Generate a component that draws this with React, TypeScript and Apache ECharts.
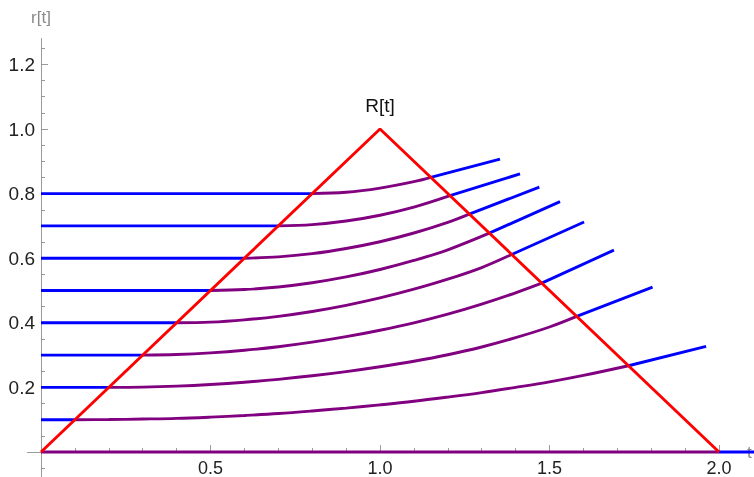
import { useEffect, useRef } from "react";
import * as echarts from "echarts";

// starting radii (flat blue segments run from t = 0 until R[t] reaches them)
const startLevels = [0.1, 0.2, 0.3, 0.4, 0.5, 0.6, 0.7, 0.8];

// purple parts [t, r[t]]
const curve00: [number, number][] = [[0, 0], [2.0, 0]];
const curve01: [number, number][] = [
  [0.1, 0.1], [0.2, 0.1005], [0.3, 0.102], [0.4, 0.104], [0.5, 0.108], [0.6, 0.113],
  [0.7, 0.119], [0.8, 0.127], [0.9, 0.136], [1.0, 0.146], [1.1, 0.157], [1.2, 0.17],
  [1.3, 0.184], [1.4, 0.2], [1.5, 0.217], [1.6, 0.237], [1.733, 0.267],
];
const curve02: [number, number][] = [
  [0.2, 0.2], [0.3, 0.201], [0.4, 0.204], [0.5, 0.209], [0.6, 0.216], [0.7, 0.225],
  [0.8, 0.236], [0.9, 0.249], [1.0, 0.264], [1.1, 0.281], [1.2, 0.301], [1.3, 0.325],
  [1.4, 0.354], [1.5, 0.387], [1.5802, 0.4198],
];
const curve03: [number, number][] = [
  [0.3, 0.3], [0.4, 0.302], [0.5, 0.307], [0.6, 0.315], [0.7, 0.326], [0.8, 0.34],
  [0.9, 0.357], [1.0, 0.377], [1.1, 0.4], [1.2, 0.427], [1.3, 0.458], [1.4, 0.493],
  [1.4771, 0.5229],
];
const curve04: [number, number][] = [
  [0.4, 0.4], [0.5, 0.402], [0.6, 0.409], [0.7, 0.42], [0.8, 0.435], [0.9, 0.454],
  [1.0, 0.477], [1.1, 0.504], [1.2, 0.535], [1.3, 0.571], [1.3885, 0.6115],
];
const curve05: [number, number][] = [
  [0.5, 0.5], [0.6, 0.503], [0.7, 0.511], [0.8, 0.524], [0.9, 0.542], [1.0, 0.565],
  [1.1, 0.593], [1.2, 0.626], [1.3224, 0.6776],
];
const curve06: [number, number][] = [
  [0.6, 0.6], [0.7, 0.604], [0.8, 0.614], [0.9, 0.63], [1.0, 0.651], [1.1, 0.678],
  [1.2, 0.711], [1.2634, 0.7366],
];
const curve07: [number, number][] = [
  [0.7, 0.7], [0.8, 0.704], [0.9, 0.715], [1.0, 0.733], [1.1, 0.758], [1.2065, 0.7935],
];
const curve08: [number, number][] = [
  [0.8, 0.8], [0.9, 0.804], [1.0, 0.817], [1.1, 0.837], [1.1496, 0.8504],
];
const purpleCurves = [curve00, curve01, curve02, curve03, curve04, curve05, curve06, curve07, curve08];

// end points of the straight blue continuations after R[t] is crossed again
const tailEnds: [number, number][] = [
  [2.2, 0], [1.962, 0.327], [1.804, 0.5105], [1.69, 0.625], [1.602, 0.712],
  [1.531, 0.775], [1.47, 0.82], [1.413, 0.861], [1.354, 0.907],
];

// R[t]
const redT = [0, 1, 2];
const redR = [0, 1, 0];

// ticks
const xMajor = [0.5, 1.0, 1.5, 2.0];
const xMinor = [0.1, 0.2, 0.3, 0.4, 0.6, 0.7, 0.8, 0.9, 1.1, 1.2, 1.3, 1.4, 1.6, 1.7, 1.8, 1.9];
const yMajor = [0.2, 0.4, 0.6, 0.8, 1.0, 1.2];
const yMinor = [-0.05, 0.05, 0.1, 0.15, 0.25, 0.3, 0.35, 0.45, 0.5, 0.55, 0.65, 0.7, 0.75,
  0.85, 0.9, 0.95, 1.05, 1.1, 1.15, 1.25];

const BLUE = "#0000ff";
const PURPLE = "#800080";
const RED = "#ff0000";
const AXIS = "#9a9a9a";
const FONT = "'Liberation Sans', Arial, sans-serif";

const X_MIN = -0.04;
const X_MAX = 2.103;
const Y_MIN = -0.08;
const Y_MAX = 1.28;
const PX_X = 339;
const PX_Y = 323;
const ORIGIN_X = 41;
const ORIGIN_Y = 452;

export default function App() {
  const ref = useRef<HTMLDivElement>(null);

  useEffect(() => {
    document.body.style.margin = "0";
    if (!ref.current) return;
    const chart = echarts.init(ref.current, undefined, { renderer: "svg" });

    const lineW = 2.9;
    const series: any[] = [];

    startLevels.forEach((r0) => {
      series.push({
        type: "line",
        data: [[0, r0], [r0, r0]],
        symbol: "none",
        lineStyle: { color: BLUE, width: lineW },
        z: 2,
      });
    });

    purpleCurves.forEach((c, i) => {
      series.push({
        type: "line",
        data: c,
        symbol: "none",
        smooth: 0.35,
        lineStyle: { color: PURPLE, width: lineW },
        z: 2,
      });
      const last = c[c.length - 1];
      series.push({
        type: "line",
        data: [last, tailEnds[i]],
        symbol: "none",
        lineStyle: { color: BLUE, width: lineW },
        z: 2,
      });
    });

    series.push({
      type: "line",
      data: redT.map((t, i) => [t, redR[i]]),
      symbol: "none",
      lineStyle: { color: RED, width: lineW },
      z: 3,
    });

    const xOffset = Y_MIN * PX_Y; // negative: move x axis up to r = 0
    const yOffset = X_MIN * PX_X; // negative: move y axis right to t = 0

    const xBase = {
      type: "value",
      min: X_MIN,
      max: X_MAX,
      position: "bottom",
      offset: xOffset,
      splitLine: { show: false },
    };
    const yBase = {
      type: "value",
      min: Y_MIN,
      max: Y_MAX,
      position: "left",
      offset: yOffset,
      splitLine: { show: false },
    };

    chart.setOption({
      animation: false,
      grid: {
        left: ORIGIN_X + X_MIN * PX_X,
        top: ORIGIN_Y - Y_MAX * PX_Y,
        width: (X_MAX - X_MIN) * PX_X,
        height: (Y_MAX - Y_MIN) * PX_Y,
        containLabel: false,
        outerBoundsMode: "none",
      },
      xAxis: [
        {
          ...xBase,
          axisLine: { onZero: false, lineStyle: { color: AXIS, width: 1 } },
          axisTick: { inside: true, length: 7, customValues: xMajor, lineStyle: { color: AXIS } },
          axisLabel: {
            customValues: xMajor,
            formatter: (v: number) => v.toFixed(1),
            color: "#222",
            fontSize: 18,
            fontFamily: FONT,
            margin: 7,
          },
        },
        {
          ...xBase,
          axisLine: { show: false, onZero: false },
          axisTick: { inside: true, length: 4, customValues: xMinor, lineStyle: { color: AXIS } },
          axisLabel: { show: false },
        },
      ],
      yAxis: [
        {
          ...yBase,
          axisLine: { onZero: false, lineStyle: { color: AXIS, width: 1 } },
          axisTick: { inside: true, length: 7, customValues: yMajor, lineStyle: { color: AXIS } },
          axisLabel: {
            customValues: yMajor,
            formatter: (v: number) => v.toFixed(1),
            color: "#222",
            fontSize: 19,
            fontFamily: FONT,
            margin: 6,
          },
        },
        {
          ...yBase,
          axisLine: { show: false, onZero: false },
          axisTick: { inside: true, length: 4, customValues: yMinor, lineStyle: { color: AXIS } },
          axisLabel: { show: false },
        },
      ],
      series,
      graphic: [
        {
          type: "text",
          x: 41,
          y: 17,
          style: {
            text: "r[t]",
            fill: "#8a8a8a",
            font: `17px ${FONT}`,
            textAlign: "center",
            textVerticalAlign: "middle",
          },
        },
        {
          type: "text",
          x: 380,
          y: 105,
          style: {
            text: "R[t]",
            fill: "#111",
            font: `19px ${FONT}`,
            textAlign: "center",
            textVerticalAlign: "middle",
          },
        },
        {
          type: "text",
          x: 747,
          y: 452,
          style: {
            text: "t",
            fill: "#8a8a8a",
            font: `17px ${FONT}`,
            textAlign: "left",
            textVerticalAlign: "middle",
          },
        },
      ],
    });

    return () => chart.dispose();
  }, []);

  return (
    <div
      ref={ref}
      style={{ position: "fixed", left: 0, top: 0, width: 754, height: 477 }}
    />
  );
}
